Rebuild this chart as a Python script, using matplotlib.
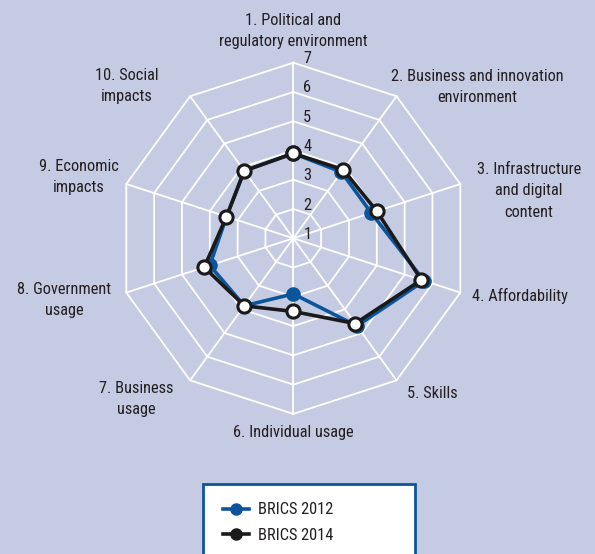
import numpy as np
import matplotlib
matplotlib.use("Agg")
import matplotlib.pyplot as plt
from matplotlib.lines import Line2D
from matplotlib.patches import Rectangle
from matplotlib import font_manager as fm

_avail = {f.name for f in fm.fontManager.ttflist}
_cands = ['Roboto Condensed', 'Liberation Sans Narrow', 'Archivo Narrow',
          'PT Sans Narrow', 'Fira Sans Condensed', 'IBM Plex Sans Condensed',
          'Encode Sans Condensed', 'Barlow Semi Condensed', 'Pragati Narrow']
_font = next((c for c in _cands if c in _avail), 'DejaVu Sans')
plt.rcParams['font.family'] = [_font, 'DejaVu Sans']

categories = [
    "1. Political and\nregulatory environment",
    "2. Business and innovation\nenvironment",
    "3. Infrastructure\nand digital\ncontent",
    "4. Affordability",
    "5. Skills",
    "6. Individual usage",
    "7. Business\nusage",
    "8. Government\nusage",
    "9. Economic\nimpacts",
    "10. Social\nimpacts",
]
brics_2012 = [3.9, 3.8, 3.8, 5.7, 4.7, 2.9, 3.85, 4.0, 3.4, 3.85]
brics_2014 = [3.9, 3.9, 4.0, 5.6, 4.6, 3.5, 3.85, 4.2, 3.4, 3.85]
scale_ticks = [1, 2, 3, 4, 5, 6, 7]

BG = "#c5cbe3"
TXT = "#231f20"
BLUE = "#0b559c"
BLACK = "#1a1a1a"
FS = 11.8

W, H = 595, 554
fig = plt.figure(figsize=(W / 100, H / 100), dpi=100, facecolor=BG)

cx, cy, R = 293.3, 238.3, 175.6
ax = fig.add_axes([(cx - R) / W, (H - cy - R) / H, 2 * R / W, 2 * R / H],
                  projection='polar')
ax.set_facecolor('none')
ax.set_theta_zero_location('N')
ax.set_theta_direction(-1)
ax.set_ylim(1, 7)
ax.grid(False)
ax.spines['polar'].set_visible(False)
ax.set_xticks([])
ax.set_yticks([])

n = len(categories)
angles = np.arange(n) * 2 * np.pi / n
closed = np.concatenate([angles, angles[:1]])

# grid rings and spokes
for r in scale_ticks[1:]:
    ax.plot(closed, [r] * (n + 1), color='white', lw=1.3, zorder=1,
            clip_on=False)
for a in angles:
    ax.plot([a, a], [1, 7], color='white', lw=1.3, zorder=1, clip_on=False)

# scale labels
for v in scale_ticks:
    ax.annotate(str(v), xy=(0, v), xytext=(14, 4), textcoords='offset pixels',
                ha='center', va='center', fontsize=FS, color=TXT,
                annotation_clip=False)

def closed_vals(vals):
    return list(vals) + [vals[0]]

ax.plot(closed, closed_vals(brics_2012), color=BLUE, lw=2.6, marker='o',
        markersize=9.5, markerfacecolor=BLUE, markeredgecolor=BLUE, zorder=3,
        clip_on=False)
ax.plot(closed, closed_vals(brics_2014), color=BLACK, lw=2.6, marker='o',
        markersize=9.5, markerfacecolor='white', markeredgecolor=BLACK,
        markeredgewidth=2.2, zorder=4, clip_on=False)

# category labels (pixel positions, centre of text block)
label_pos = [
    (293, 31),
    (477, 87),
    (529, 191),
    (520, 296),
    (432, 394),
    (293, 433),
    (136, 399),
    (64, 300),
    (79, 177),
    (127, 86),
]
for text, (x, y) in zip(categories, label_pos):
    fig.text(x / W, 1 - y / H, text, ha='center', va='center', fontsize=FS,
             color=TXT, linespacing=1.52, multialignment='center')

# legend box
fig.patches.append(Rectangle((203 / W, 0 - 0.02), (415 - 203) / W,
                             (H - 484) / H + 0.02, transform=fig.transFigure,
                             facecolor='white', edgecolor=BLUE, lw=2.0,
                             zorder=0))
handles = [
    Line2D([], [], color=BLUE, lw=2.6, marker='o', markersize=8,
           markerfacecolor=BLUE, markeredgecolor=BLUE),
    Line2D([], [], color=BLACK, lw=2.6, marker='o', markersize=8,
           markerfacecolor=BLACK, markeredgecolor=BLACK),
]
fig.legend(handles, ["BRICS 2012", "BRICS 2014"], loc='upper left',
           bbox_to_anchor=(212 / W, 1 - 491 / H), frameon=False,
           fontsize=FS, handlelength=1.55, handletextpad=0.55,
           labelspacing=0.62, labelcolor=TXT, borderpad=0.2)

fig.savefig("out.png", dpi=100, facecolor=BG)
